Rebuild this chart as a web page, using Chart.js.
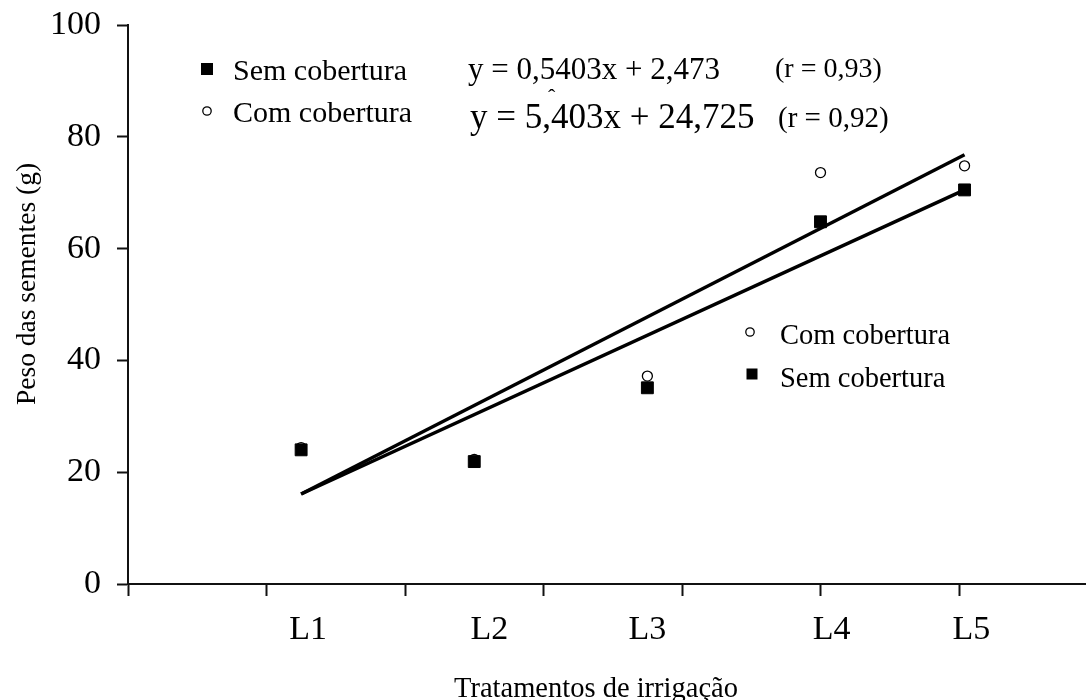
<!DOCTYPE html>
<html>
<head>
<meta charset="utf-8">
<script src="https://cdn.jsdelivr.net/npm/chart.js@4.4.1/dist/chart.umd.min.js"></script>
<style>
  html, body { margin: 0; padding: 0; background: #fff; }
  #wrap { width: 1086px; height: 700px; }
</style>
</head>
<body>
<div id="wrap"><canvas id="chart" width="1086" height="700"></canvas></div>
<script>
// Irrigation treatments and where each sample sits on the horizontal scale
const treatments   = ['L1', 'L2', 'L3', 'L4', 'L5'];
const treatmentX   = [1.25, 2.5, 3.75, 5, 6.04];
// where the treatment names are printed under the axis
const treatmentLabelX = [1.30, 2.61, 3.75, 5.08, 6.09];
// tick marks along the horizontal axis
const xTickMarks   = [0, 1, 2, 3, 4, 5, 6];
const yTickValues  = [0, 20, 40, 60, 80, 100];

// Seed weight (g)
const semCobertura = [24.0, 21.9, 35.1, 64.8, 70.5];
const comCobertura = [24.4, 22.3, 37.2, 73.6, 74.8];

// fitted lines, end points
const trendX   = [1.25, 6.04];
const trendSem = [16.1, 70.5];
const trendCom = [16.1, 76.8];

const equations = [
  { eq: 'y = 0,5403x + 2,473', r: '(r = 0,93)' },
  { eq: 'y = 5,403x + 24,725', r: '(r = 0,92)' }
];

const SERIF = '"Liberation Serif", "Times New Roman", serif';
const X_MAX = (1086 - 128) / 138.5;

const pts = (xs, ys) => xs.map((x, i) => ({ x: x, y: ys[i] }));

function drawSquare(ctx, x, y, s) {
  ctx.fillStyle = '#000';
  ctx.fillRect(x - s / 2, y - s / 2, s, s);
}
function drawCircle(ctx, x, y, r) {
  ctx.beginPath();
  ctx.arc(x, y, r, 0, Math.PI * 2);
  ctx.fillStyle = '#fff';
  ctx.fill();
  ctx.lineWidth = 1.3;
  ctx.strokeStyle = '#000';
  ctx.stroke();
}
function text(ctx, str, x, y, size, align) {
  ctx.font = size + 'px ' + SERIF;
  ctx.textAlign = align || 'left';
  ctx.textBaseline = 'alphabetic';
  ctx.fillStyle = '#000';
  ctx.fillText(str, x, y);
}

// Legends, regression equations and axis titles
const annotations = {
  id: 'annotations',
  afterDraw(chart) {
    const ctx = chart.ctx;
    ctx.save();

    // upper legend with equations
    drawSquare(ctx, 207, 69, 12);
    text(ctx, 'Sem cobertura', 233, 80, 30);
    drawCircle(ctx, 207, 111, 4.2);
    text(ctx, 'Com cobertura', 233, 122, 30);

    text(ctx, equations[0].eq, 468, 79, 31);
    text(ctx, equations[0].r, 775, 77, 28);
    text(ctx, equations[1].eq, 470, 128, 35);
    text(ctx, equations[1].r, 778, 127, 29);
    text(ctx, 'ˆ', 548, 104, 22);

    // lower legend
    drawCircle(ctx, 750, 332, 4.2);
    text(ctx, 'Com cobertura', 780, 344, 28.5);
    drawSquare(ctx, 752, 374, 11);
    text(ctx, 'Sem cobertura', 780, 387, 28.5);

    // axis titles
    text(ctx, 'Tratamentos de irrigação', 596, 697, 28.5, 'center');
    ctx.save();
    ctx.translate(35, 284);
    ctx.rotate(-Math.PI / 2);
    text(ctx, 'Peso das sementes (g)', 0, 0, 27.5, 'center');
    ctx.restore();

    ctx.restore();
  }
};

new Chart(document.getElementById('chart'), {
  type: 'scatter',
  data: {
    datasets: [
      {
        label: 'Sem cobertura',
        data: pts(treatmentX, semCobertura),
        pointStyle: 'rect',
        pointRadius: 8.4,
        backgroundColor: '#000',
        borderColor: '#000',
        borderWidth: 1,
        order: 0
      },
      {
        label: 'Com cobertura',
        data: pts(treatmentX, comCobertura),
        pointStyle: 'circle',
        pointRadius: 5,
        backgroundColor: '#fff',
        borderColor: '#000',
        borderWidth: 1.3,
        order: 1
      },
      {
        type: 'line',
        label: 'Com cobertura - ajuste',
        data: pts(trendX, trendCom),
        borderColor: '#000',
        borderWidth: 3.5,
        pointRadius: 0,
        showLine: true,
        fill: false,
        order: 2
      },
      {
        type: 'line',
        label: 'Sem cobertura - ajuste',
        data: pts(trendX, trendSem),
        borderColor: '#000',
        borderWidth: 3.5,
        pointRadius: 0,
        showLine: true,
        fill: false,
        order: 3
      }
    ]
  },
  options: {
    responsive: false,
    animation: false,
    layout: { autoPadding: false, padding: { top: 25, right: 0, bottom: 0, left: 0 } },
    plugins: {
      legend: { display: false },
      tooltip: { enabled: false }
    },
    scales: {
      x: {
        type: 'linear',
        min: 0,
        max: X_MAX,
        afterBuildTicks: (scale) => {
          const vals = xTickMarks.concat(treatmentLabelX).sort((a, b) => a - b);
          scale.ticks = vals.map(v => ({ value: v }));
        },
        afterFit: (scale) => {
          scale.height = 116;
          scale.paddingLeft = 0;
          scale.paddingRight = 0;
        },
        ticks: {
          autoSkip: false,
          maxRotation: 0,
          minRotation: 0,
          padding: 14,
          color: '#000',
          font: { family: SERIF, size: 34 },
          callback: (v) => {
            const i = treatmentLabelX.indexOf(v);
            return i >= 0 ? treatments[i] : '';
          }
        },
        grid: {
          drawOnChartArea: false,
          drawTicks: true,
          tickLength: 12,
          tickWidth: 2,
          tickColor: (c) => (c.tick && treatmentLabelX.includes(c.tick.value)) ? 'rgba(0,0,0,0)' : '#111'
        },
        border: { display: true, color: '#111', width: 2 }
      },
      y: {
        min: 0,
        max: 100,
        afterBuildTicks: (scale) => { scale.ticks = yTickValues.map(v => ({ value: v })); },
        afterFit: (scale) => {
          scale.width = 128;
          scale.paddingTop = 0;
          scale.paddingBottom = 0;
        },
        ticks: {
          padding: 16,
          color: '#000',
          font: { family: SERIF, size: 34 }
        },
        grid: {
          drawOnChartArea: false,
          drawTicks: true,
          tickLength: 11,
          tickWidth: 2,
          tickColor: '#111'
        },
        border: { display: true, color: '#111', width: 2 }
      }
    }
  },
  plugins: [annotations]
});
</script>
</body>
</html>
